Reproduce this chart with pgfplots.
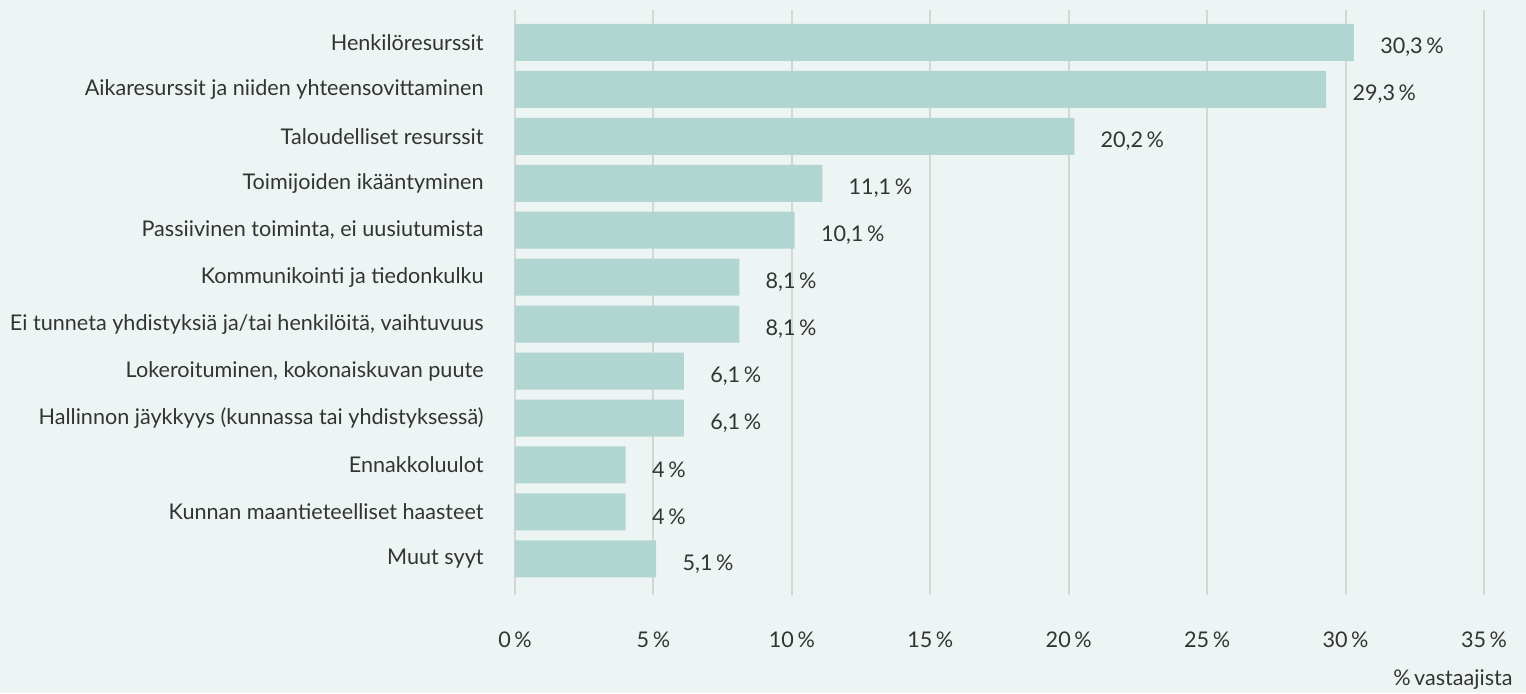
\documentclass[border=0pt]{standalone}
\usepackage{fontspec}
\setmainfont{Lato}
\usepackage{pgfplots}
\usepackage{pgfplotstable}
\pgfplotsset{compat=1.18}
\definecolor{bg}{HTML}{EDF5F4}
\definecolor{barc}{HTML}{B1D5D1}
\definecolor{txt}{HTML}{333333}
\definecolor{grd}{HTML}{D3D6D5}
\pgfplotstableread{
y x label
0 30.3 30,3
1 29.3 29,3
2 20.2 20,2
3 11.1 11,1
4 10.1 10,1
5 8.1 8,1
6 8.1 8,1
7 6.1 6,1
8 6.1 6,1
9 4 4
10 4 4
11 5.1 5,1
}\datatable
\begin{document}
\begin{tikzpicture}
\fill[bg] (0,0) rectangle (763pt,346.5pt);
\useasboundingbox (0,0) rectangle (763pt,346.5pt);
\begin{axis}[
  at={(257.5pt,49pt)}, anchor=south west,
  width=484.5pt, height=292.5pt, scale only axis,
  xbar, bar width=18.5pt,
  xmin=0, xmax=35, ymin=-0.69, ymax=11.77, y dir=reverse,
  axis line style={draw=none},
  major tick length=0pt,
  xmajorgrids, grid style={grd, line width=1pt},
  xtick={0,5,10,15,20,25,30,35},
  xticklabels={0\,\%,5\,\%,10\,\%,15\,\%,20\,\%,25\,\%,30\,\%,35\,\%},
  ytick={0,...,11},
  yticklabels={Henkilöresurssit,
    Aikaresurssit ja niiden yhteensovittaminen,
    Taloudelliset resurssit,
    Toimijoiden ikääntyminen,
    {Passiivinen toiminta, ei uusiutumista},
    Kommunikointi ja tiedonkulku,
    {Ei tunneta yhdistyksiä ja/tai henkilöitä, vaihtuvuus},
    {Lokeroituminen, kokonaiskuvan puute},
    Hallinnon jäykkyys (kunnassa tai yhdistyksessä),
    Ennakkoluulot,
    Kunnan maantieteelliset haasteet,
    Muut syyt},
  tick label style={font=\fontsize{10.8}{12}\selectfont, text=txt, inner sep=0pt},
  y tick label style={anchor=east, xshift=-15.5pt},
  x tick label style={anchor=center, yshift=-22.5pt},
  nodes near coords={\pgfplotspointmeta\,\%},
  point meta=explicit symbolic,
  nodes near coords style={anchor=west, inner sep=0pt, xshift=13pt, yshift=-2.5pt, font=\fontsize{10.8}{12}\selectfont, text=txt},
  clip=false,
]
\addplot[fill=barc, draw=none] table[x=x, y=y, meta=label] {\datatable};
\node[anchor=east, inner sep=0pt, font=\fontsize{10.8}{12}\selectfont, text=txt] at (rel axis cs:1,0) [xshift=14.5pt, yshift=-42.5pt] {\%\,vastaajista};
\end{axis}
\end{tikzpicture}
\end{document}
